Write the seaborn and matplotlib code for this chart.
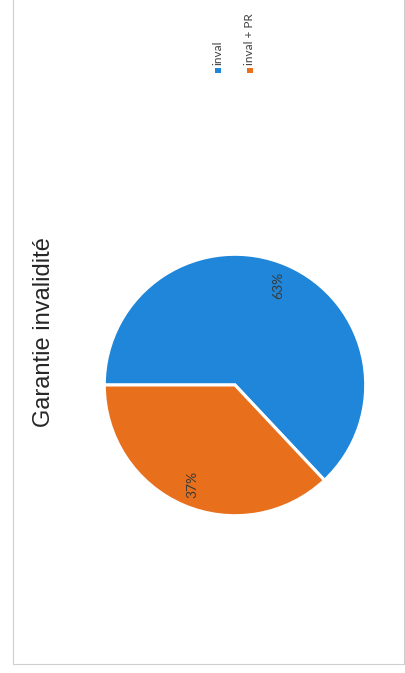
import matplotlib
matplotlib.use('Agg')
import matplotlib.pyplot as plt
import matplotlib.patches as mpatches
import seaborn as sns

# data
categories = ["inval", "inval + PR"]
shares = [63, 37]
colors = ["#1f86d9", "#e8701c"]
title = "Garantie invalidité"

W, H = 406, 673
sns.set_theme(style="white")
plt.rcParams['font.family'] = ['Liberation Sans', 'DejaVu Sans']

fig = plt.figure(figsize=(W / 100, H / 100), dpi=100)
fig.patch.set_facecolor("white")


def fx(px):
    return px / W


def fy(py):
    return 1 - py / H


# scanned page is turned a quarter turn, so everything reads bottom-to-top
cx, cy, r = 235, 385, 132
ax = fig.add_axes([fx(cx - r), fy(cy + r), 2 * r / W, 2 * r / H])
wedges, _, autotexts = ax.pie(
    shares, colors=colors, startangle=180, counterclock=False,
    autopct=lambda p: f"{p:.0f}%", pctdistance=0.83,
    wedgeprops=dict(edgecolor="white", linewidth=2.2),
    textprops=dict(color="#3a3a3a", fontsize=10, rotation=90,
                   family=['Lato', 'DejaVu Sans']))
ax.set_xlim(-1.01, 1.01)
ax.set_ylim(-1.01, 1.01)
ax.set_axis_off()

# title
fig.text(fx(44), fy(332), title, rotation=90, ha="center", va="center",
         fontsize=17, color="#262626")

# legend drawn by hand so it can be turned as well
leg_x = [218, 250]
for name, col, x in zip(categories, colors, leg_x):
    fig.add_artist(mpatches.Rectangle((fx(x - 2.5), fy(72.5)), 5 / W, 5 / H,
                                      transform=fig.transFigure,
                                      facecolor=col, edgecolor="none"))
    fig.text(fx(x), fy(65), name, rotation=90, ha="center", va="bottom",
             fontsize=8.5, color="#404040", family=['Lato', 'DejaVu Sans'])

# chart border from the scan
fig.add_artist(mpatches.Rectangle((fx(13), fy(664)), (404 - 13) / W, 670 / H,
                                  transform=fig.transFigure, fill=False,
                                  edgecolor="#cfcfcf", linewidth=0.8))

fig.savefig("out.png", dpi=100)
plt.close(fig)
